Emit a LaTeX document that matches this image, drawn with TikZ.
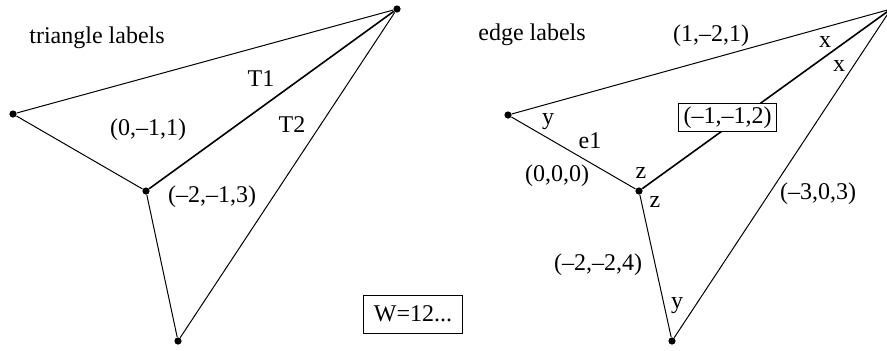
\documentclass[tikz,border=0pt]{standalone}
\usepackage{fontspec}
\setmainfont{Liberation Serif}
\begin{document}
\begin{tikzpicture}[x=0.5pt,y=-0.5pt,
  vtx/.style={circle,fill=black,inner sep=0pt,minimum size=3.6pt},
  edge/.style={line width=0.5pt},
  inner/.style={line width=0.8pt},
  lbl/.style={inner sep=0pt,font=\fontsize{12}{14}\selectfont},
  boxlbl/.style={draw,fill=white,line width=0.5pt,inner xsep=2.5pt,inner ysep=1.5pt,font=\fontsize{12}{14}\selectfont}]
\useasboundingbox (0,0) rectangle (887,350);
% left figure
\node[vtx] (A) at (13,114) {};
\node[vtx] (B) at (146,191) {};
\node[vtx] (C) at (397,9) {};
\node[vtx] (D) at (178,341) {};
\draw[edge] (A) -- (C);
\draw[edge] (A) -- (B);
\draw[inner] (B) -- (C);
\draw[edge] (B) -- (D);
\draw[edge] (D) -- (C);
\node[lbl] (tl) at (97,38) {triangle labels};
\node[lbl] (t1) at (261,79) {T1};
\node[lbl] (t2) at (292,125) {T2};
\node[lbl] (c1) at (148,130) {(0,–1,1)};
\node[lbl] (c2) at (212,197) {(–2,–1,3)};
\node[draw,line width=0.5pt,minimum width=49.5pt,minimum height=19pt,inner sep=0pt,font=\fontsize{12}{14}\selectfont] (W) at (413,314) {W=12...};
% right figure
\node[vtx] (A2) at (508,115) {};
\node[vtx] (B2) at (639,191) {};
\node[vtx] (C2) at (891,9) {};
\node[vtx] (D2) at (672,341) {};
\draw[edge] (A2) -- (C2);
\draw[edge] (A2) -- (B2);
\draw[inner] (B2) -- (C2);
\draw[edge] (B2) -- (D2);
\draw[edge] (D2) -- (C2);
\node[lbl] (el) at (532,35) {edge labels};
\node[lbl] (e121) at (711,36) {(1,–2,1)};
\node[lbl] (x1) at (825,42) {x};
\node[lbl] (x2) at (839,66) {x};
\node[lbl] (y1) at (548,122) {y};
\node[lbl] (e1) at (590,141) {e1};
\node[lbl] (e000) at (557,176) {(0,0,0)};
\node[lbl] (z1) at (641,173) {z};
\node[lbl] (z2) at (655,202) {z};
\node[boxlbl] (e112) at (727.5,117.5) {(–1,–1,2)};
\node[lbl] (e303) at (818,194) {(–3,0,3)};
\node[lbl] (e224) at (598,265) {(–2,–2,4)};
\node[lbl] (y2) at (677,306) {y};
\end{tikzpicture}
\end{document}
